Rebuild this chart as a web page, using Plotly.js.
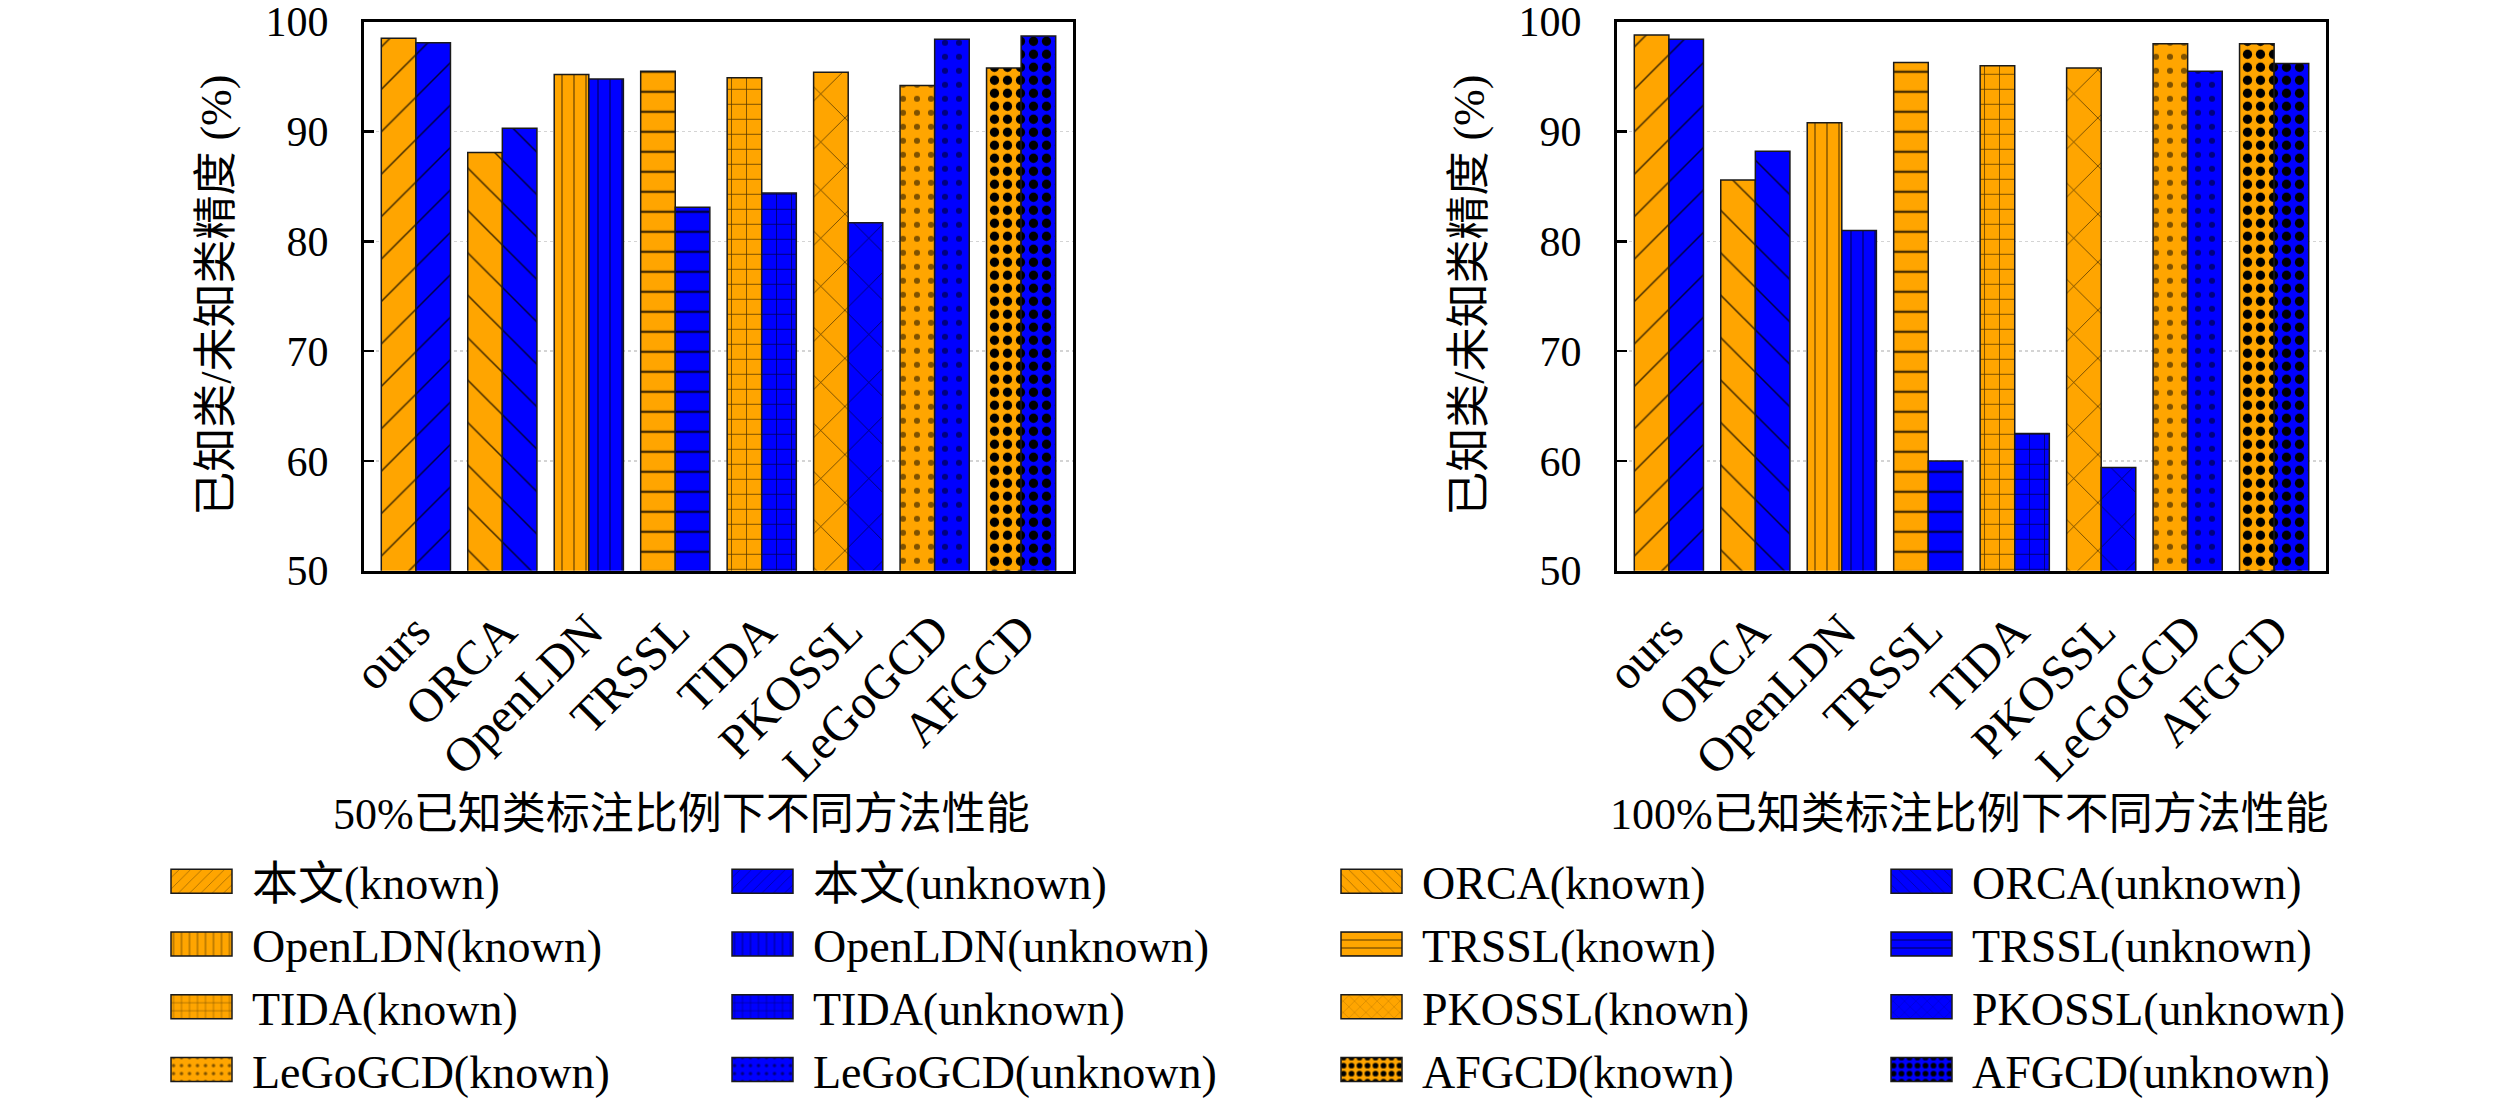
<!DOCTYPE html>
<html>
<head>
<meta charset="utf-8">
<script src="https://cdn.plot.ly/plotly-3.0.1.min.js"></script>
<style>
  html, body { margin: 0; padding: 0; background: #fff; }
  #graph { width: 2520px; height: 1107px; }
</style>
</head>
<body>
<div id="graph"></div>
<script>
// categories and legend names
const methods = ["ours", "ORCA", "OpenLDN", "TRSSL", "TIDA", "PKOSSL", "LeGoGCD", "AFGCD"];
const legendNames = ["本文", "ORCA", "OpenLDN", "TRSSL", "TIDA", "PKOSSL", "LeGoGCD", "AFGCD"];

// 50% labelled
const known50 = [98.5, 88.1, 95.2, 95.5, 94.9, 95.4, 94.2, 95.8];
const unknown50 = [98.1, 90.3, 94.8, 83.1, 84.4, 81.7, 98.4, 98.7];

// 100% labelled
const known100 = [98.8, 85.6, 90.8, 96.3, 96.0, 95.8, 98.0, 98.0];
const unknown100 = [98.4, 88.2, 81.0, 60.0, 62.5, 59.4, 95.5, 96.2];

const yTicks = [50, 60, 70, 80, 90, 100];

const FONT = "Liberation Serif, Noto Sans CJK SC, serif";
const ORANGE = "#FFA500";
const BLUE = "#0000FF";

// hatch for each method
const hatch = [
    {shape: "/", size: 30, solidity: 0.05, fgopacity: 0.75},
    {shape: "\\", size: 30, solidity: 0.05, fgopacity: 0.75},
    {shape: "|", size: 12, solidity: 0.1, fgopacity: 0.6},
    {shape: "-", size: 20, solidity: 0.12, fgopacity: 0.7},
    {shape: "+", size: 15, solidity: 0.1, fgopacity: 0.65},
    {shape: "x", size: 34, solidity: 0.04, fgopacity: 0.75},
    {shape: ".", size: 14, solidity: 0.15, fgopacity: 0.5},
    {shape: ".", size: 13, solidity: 0.4, fgopacity: 1}
];

function makeBar(i, value, known, xa, ya, show) {
    let h = hatch[i];
    let legendId = (i % 2 === 0) ? (known ? "legend" : "legend2") : (known ? "legend3" : "legend4");
    return {
        type: "bar",
        x: [methods[i]],
        y: [value],
        xaxis: xa,
        yaxis: ya,
        name: legendNames[i] + (known ? "(known)" : "(unknown)"),
        offsetgroup: known ? "k" : "u",
        legend: legendId,
        showlegend: show,
        hoverinfo: "skip",
        marker: {
            color: known ? ORANGE : BLUE,
            line: {color: "#1a1a1a", width: 1.5},
            pattern: {
                shape: h.shape,
                size: h.size,
                solidity: h.solidity,
                fillmode: "overlay",
                fgcolor: "#000000",
                fgopacity: h.fgopacity
            }
        }
    };
}

let data = [];
for (let i = 0; i < methods.length; i++) {
    data.push(makeBar(i, known50[i], true, "x", "y", true));
    data.push(makeBar(i, unknown50[i], false, "x", "y", true));
}
for (let i = 0; i < methods.length; i++) {
    data.push(makeBar(i, known100[i], true, "x2", "y2", false));
    data.push(makeBar(i, unknown100[i], false, "x2", "y2", false));
}

function xAxis(domain, anchor) {
    return {
        domain: domain,
        anchor: anchor,
        type: "category",
        range: [-0.6, 7.6],
        showline: true,
        mirror: true,
        linecolor: "#000",
        linewidth: 3,
        ticks: "",
        tickangle: -45,
        ticklabelstandoff: 10,
        tickfont: {family: FONT, size: 48, color: "#000"},
        showgrid: false,
        zeroline: false,
        automargin: false,
        fixedrange: true
    };
}

function yAxis(anchor) {
    return {
        domain: [0.4788, 0.9801],
        anchor: anchor,
        range: [50, 100],
        tickvals: yTicks,
        showline: true,
        mirror: true,
        linecolor: "#000",
        linewidth: 3,
        ticks: "inside",
        ticklen: 10,
        tickwidth: 2.5,
        tickcolor: "#000",
        ticklabelstandoff: 24,
        ticklabeloverflow: "allow",
        tickfont: {family: FONT, size: 42, color: "#000"},
        showgrid: true,
        gridcolor: "#d4d4d4",
        griddash: "dot",
        gridwidth: 1.5,
        zeroline: false,
        automargin: false,
        fixedrange: true
    };
}

function legendBox(xpx) {
    return {
        x: xpx / 2520,
        y: 0.2285,
        xanchor: "left",
        yanchor: "top",
        orientation: "v",
        bgcolor: "rgba(0,0,0,0)",
        borderwidth: 0,
        tracegroupgap: 0,
        itemwidth: 91,
        itemclick: false,
        itemdoubleclick: false,
        font: {family: FONT, size: 46, color: "#000"}
    };
}

const layout = {
    width: 2520,
    height: 1107,
    margin: {l: 0, r: 0, t: 0, b: 0},
    paper_bgcolor: "#fff",
    plot_bgcolor: "#fff",
    font: {family: FONT, color: "#000"},
    barmode: "group",
    bargap: 0.2,
    bargroupgap: 0,
    xaxis: xAxis([364 / 2520, 1073 / 2520], "y"),
    yaxis: yAxis("x"),
    xaxis2: xAxis([1617 / 2520, 2326 / 2520], "y2"),
    yaxis2: yAxis("x2"),
    legend: legendBox(151),
    legend2: legendBox(712),
    legend3: legendBox(1321),
    legend4: legendBox(1871),
    annotations: [
        {text: "已知类/未知类精度 (%)", xref: "paper", yref: "paper", x: 217 / 2520, y: 1 - 299 / 1107,
         textangle: -90, showarrow: false, xanchor: "center", yanchor: "middle",
         font: {family: FONT, size: 44, color: "#000"}},
        {text: "已知类/未知类精度 (%)", xref: "paper", yref: "paper", x: 1470 / 2520, y: 1 - 299 / 1107,
         textangle: -90, showarrow: false, xanchor: "center", yanchor: "middle",
         font: {family: FONT, size: 44, color: "#000"}},
        {text: "50%已知类标注比例下不同方法性能", xref: "paper", yref: "paper", x: 681 / 2520, y: 1 - 823 / 1107,
         showarrow: false, xanchor: "center", yanchor: "middle",
         font: {family: FONT, size: 44, color: "#000"}},
        {text: "100%已知类标注比例下不同方法性能", xref: "paper", yref: "paper", x: 1969 / 2520, y: 1 - 823 / 1107,
         showarrow: false, xanchor: "center", yanchor: "middle",
         font: {family: FONT, size: 44, color: "#000"}}
    ]
};

Plotly.newPlot("graph", data, layout, {displayModeBar: false, staticPlot: true}).then(function () {
    // wider legend swatches, like the reference
    document.querySelectorAll("g.legendpoints path").forEach(function (p) {
        p.setAttribute("d", "M30.5,12H-30.5V-12H30.5Z");
    });
});
</script>
</body>
</html>
